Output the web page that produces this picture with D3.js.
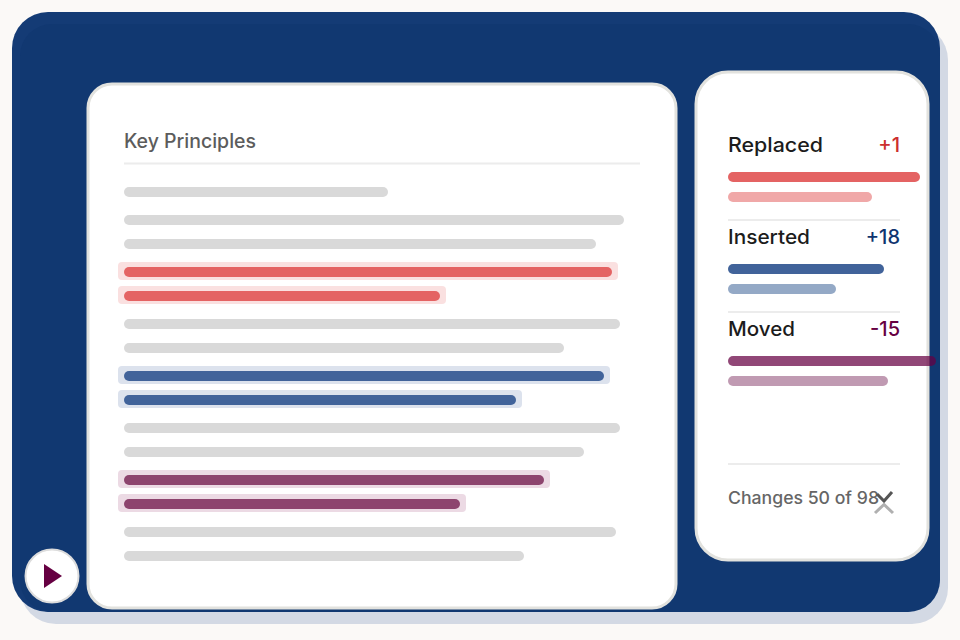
<!DOCTYPE html>
<html>
<head>
<meta charset="utf-8">
<script src="https://cdn.jsdelivr.net/npm/d3@7"></script>
<style>
html, body { margin: 0; padding: 0; background: #fbf9f7; }
svg { display: block; }
text { font-family: "Inter", "Noto Sans", sans-serif; font-weight: 500; }
</style>
</head>
<body>
<svg id="chart" width="960" height="640"></svg>
<script>
// document lines, in groups of two: length of each line (null = no line in that slot)
var lineGroups = [
	[null, 66],
	[125, 118],
	[122, 79],
	[124, 110],
	[120, 98],
	[124, 115],
	[105, 84],
	[123, 100]
];
// what kind of line each group holds
var groupKinds = ["plain", "plain", "replaced", "plain", "inserted", "plain", "moved", "plain"];
var categories = ["Replaced", "Inserted", "Moved"];
var deltas = ["+1", "+18", "-15"];
var barsFirst = [48, 39, 52];
var barsSecond = [36, 27, 40];
var kindKeys = ["replaced", "inserted", "moved"];
var title = "Key Principles";
var footer = "Changes 50 of 98";

var colors = { replaced: "#e46363", inserted: "#41639a", moved: "#8d446e" };
var lightColors = { replaced: "#f0a8a8", inserted: "#94a9c6", moved: "#c09ab2" };
var haloColors = { replaced: "#fae0e0", inserted: "#dce2ed", moved: "#ecdae4" };
var deltaColors = { replaced: "#cc2f2f", inserted: "#0f3570", moved: "#660042" };

var svg = d3.select("#chart");

// backdrop
svg.append("rect").attr("x", 20).attr("y", 24).attr("width", 928).attr("height", 600).attr("rx", 36).style("fill", "#d3d9e4");
svg.append("rect").attr("x", 12).attr("y", 12).attr("width", 928).attr("height", 600).attr("rx", 36).style("fill", "#143b75");
svg.append("rect").attr("x", 20).attr("y", 24).attr("width", 920).attr("height", 588).attr("rx", 32).style("fill", "#113871");

// document card
svg.append("rect").attr("x", 88).attr("y", 84).attr("width", 588).attr("height", 524).attr("rx", 24)
	.style("fill", "#fff").style("stroke", "#e2e2de").style("stroke-width", 3);

// side card
svg.append("rect").attr("x", 696).attr("y", 72).attr("width", 232).attr("height", 488).attr("rx", 32)
	.style("fill", "#fff").style("stroke", "#e2e2de").style("stroke-width", 3);

// scales
var xDoc = d3.scaleLinear().domain([0, 129]).range([124, 640]);
var yDoc = d3.scaleLinear().domain([0, 7]).range([168, 532]);
var xSide = d3.scaleLinear().domain([0, 43]).range([728, 900]);
var ySide = d3.scaleBand().domain(categories).range([129, 405]);

// document head
svg.append("text").attr("x", 124).attr("y", 148)
	.attr("textLength", 132).attr("lengthAdjust", "spacingAndGlyphs")
	.style("font-size", "19.5px").style("fill", "#5c5c5c").text(title);
svg.append("line").attr("x1", 124).attr("x2", 640).attr("y1", 163.5).attr("y2", 163.5)
	.style("stroke", "#ececec").style("stroke-width", 2);

// document lines
var docLines = [];
lineGroups.forEach(function (g, i) {
	g.forEach(function (len, j) {
		if (len !== null) docLines.push({ group: i, slot: j, len: len, kind: groupKinds[i] });
	});
});

function lineY(d) { return yDoc(d.group) + d.slot * 24; }

svg.append("g").selectAll("rect")
	.data(docLines.filter(function (d) { return d.kind !== "plain"; }))
	.enter().append("rect")
	.attr("x", xDoc(0) - 6)
	.attr("y", function (d) { return lineY(d) - 10; })
	.attr("width", function (d) { return xDoc(d.len) - xDoc(0) + 12; })
	.attr("height", 18)
	.attr("rx", 4)
	.style("fill", function (d) { return haloColors[d.kind]; });

svg.append("g").selectAll("rect")
	.data(docLines)
	.enter().append("rect")
	.attr("x", xDoc(0))
	.attr("y", function (d) { return lineY(d) - 5; })
	.attr("width", function (d) { return xDoc(d.len) - xDoc(0); })
	.attr("height", 10)
	.attr("rx", 5)
	.style("fill", function (d) { return d.kind === "plain" ? "#d9d9d9" : colors[d.kind]; });

// side panel
var sideGroups = svg.append("g").selectAll("g")
	.data(categories)
	.enter().append("g")
	.attr("transform", function (d) { return "translate(0," + ySide(d) + ")"; });

var labelLengths = [95, 82, 67];
sideGroups.append("text")
	.attr("x", 728).attr("y", 23)
	.attr("textLength", function (d, i) { return labelLengths[i]; })
	.attr("lengthAdjust", "spacingAndGlyphs")
	.style("font-size", "20px").style("fill", "#1c1c1c")
	.text(function (d) { return d; });

sideGroups.append("text")
	.attr("x", 900).attr("y", 23)
	.attr("text-anchor", "end")
	.style("font-size", "20px")
	.style("fill", function (d, i) { return deltaColors[kindKeys[i]]; })
	.text(function (d, i) { return deltas[i]; });

sideGroups.append("rect")
	.attr("x", xSide(0)).attr("y", 43)
	.attr("width", function (d, i) { return xSide(barsFirst[i]) - xSide(0); })
	.attr("height", 10).attr("rx", 5)
	.style("fill", function (d, i) { return i === 2 ? "#660042" : colors[kindKeys[i]]; })
	.style("opacity", function (d, i) { return i === 2 ? 0.72 : 1; });

sideGroups.append("rect")
	.attr("x", xSide(0)).attr("y", 63)
	.attr("width", function (d, i) { return xSide(barsSecond[i]) - xSide(0); })
	.attr("height", 10).attr("rx", 5)
	.style("fill", function (d, i) { return lightColors[kindKeys[i]]; });

// separators above the last two groups and above the footer
svg.append("g").selectAll("line")
	.data([220, 312, 464])
	.enter().append("line")
	.attr("x1", 728).attr("x2", 900)
	.attr("y1", function (d) { return d; }).attr("y2", function (d) { return d; })
	.style("stroke", "#ececec").style("stroke-width", 2);

// footer
svg.append("text").attr("x", 728).attr("y", 504)
	.attr("textLength", 151).attr("lengthAdjust", "spacingAndGlyphs")
	.style("font-size", "17px").style("fill", "#666").text(footer);

svg.append("path").attr("d", "M877,494 L884,501 L892,492")
	.style("fill", "none").style("stroke", "#555").style("stroke-width", 3);
svg.append("path").attr("d", "M875,513 L884,504.5 L893,513")
	.style("fill", "none").style("stroke", "#b0b0b0").style("stroke-width", 3);

// play button
svg.append("circle").attr("cx", 52).attr("cy", 576).attr("r", 26.5)
	.style("fill", "#fff").style("stroke", "#dcdcdc").style("stroke-width", 2);
svg.append("path").attr("d", "M44,564 L62,576 L44,588 Z").style("fill", "#660042");
</script>
</body>
</html>
